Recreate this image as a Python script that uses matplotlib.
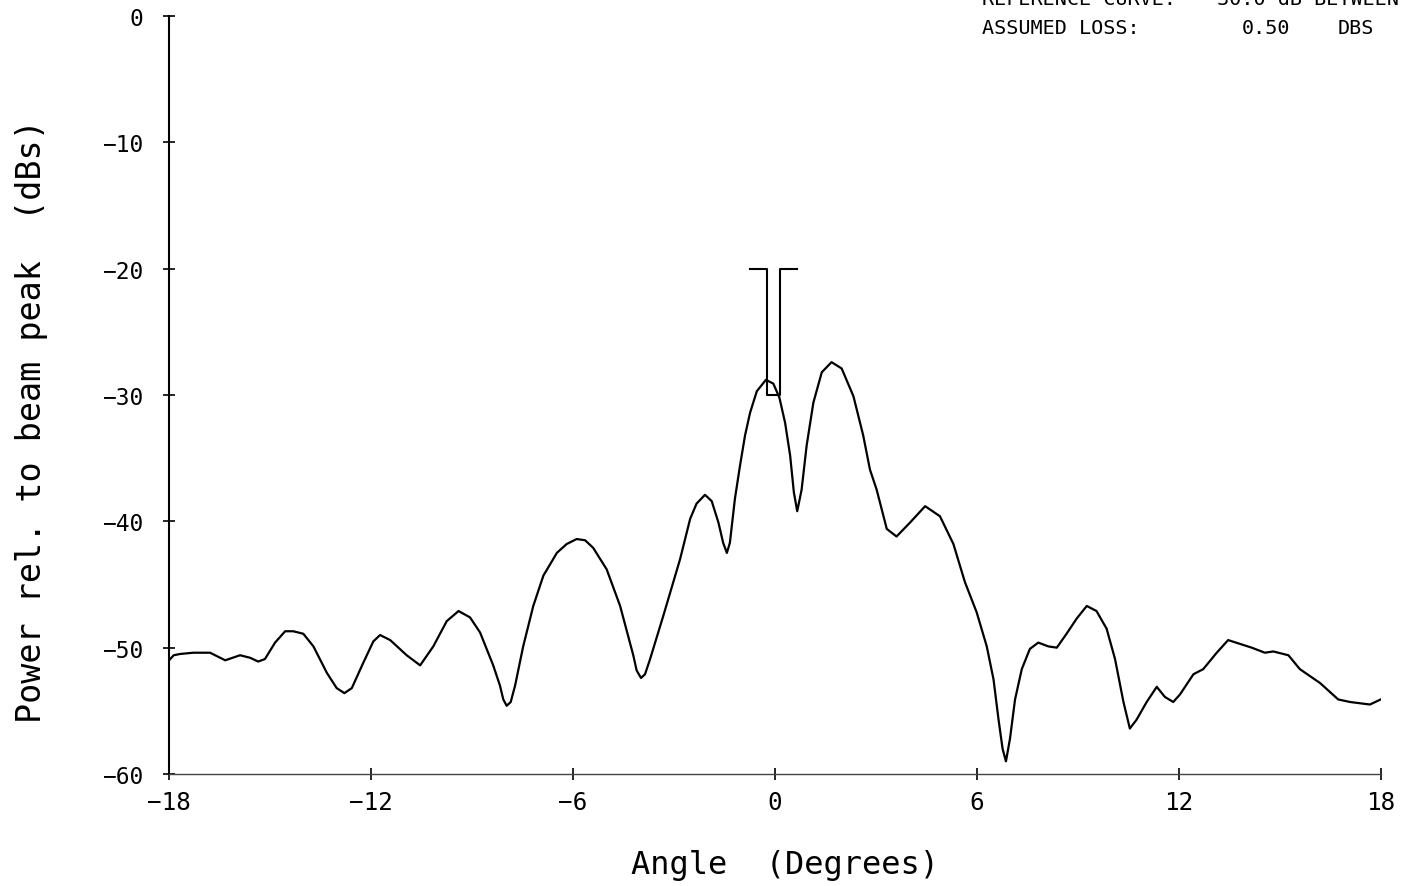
import matplotlib
matplotlib.use("Agg")
import matplotlib.pyplot as plt

angle = [-18.00, -17.86, -17.67, -17.28, -16.78, -16.33, -15.89, -15.59, -15.35, -15.15,
         -14.85, -14.55, -14.31, -14.01, -13.71, -13.31, -13.02, -12.79, -12.57, -12.23,
         -11.93, -11.73, -11.43, -10.94, -10.54, -10.15, -9.75, -9.40, -9.06, -8.76,
         -8.37, -8.17, -8.07, -7.97, -7.85, -7.72, -7.48, -7.18, -6.88, -6.48,
         -6.19, -5.89, -5.64, -5.40, -5.00, -4.60, -4.21, -4.11, -3.98, -3.86,
         -3.71, -3.32, -2.82, -2.52, -2.33, -2.08, -1.88, -1.68, -1.54, -1.43,
         -1.34, -1.19, -1.04, -0.89, -0.74, -0.54, -0.27, -0.05, 0.13, 0.30,
         0.45, 0.56, 0.66, 0.79, 0.94, 1.14, 1.39, 1.68, 1.98, 2.33,
         2.62, 2.82, 3.02, 3.32, 3.61, 4.01, 4.46, 4.90, 5.30, 5.64,
         5.99, 6.29, 6.49, 6.64, 6.76, 6.86, 6.98, 7.13, 7.33, 7.57,
         7.82, 8.12, 8.37, 8.66, 8.96, 9.26, 9.55, 9.85, 10.10, 10.35,
         10.54, 10.74, 11.04, 11.34, 11.58, 11.83, 12.03, 12.43, 12.72, 13.12,
         13.46, 13.81, 14.16, 14.55, 14.80, 15.25, 15.59, 16.19, 16.73, 17.08,
         17.67, 17.99]
power = [-51.0, -50.6, -50.5, -50.4, -50.4, -51.0, -50.6, -50.8, -51.1, -50.9,
         -49.6, -48.7, -48.7, -48.9, -49.9, -52.0, -53.2, -53.6, -53.2, -51.2,
         -49.5, -49.0, -49.4, -50.6, -51.4, -49.9, -47.9, -47.1, -47.6, -48.8,
         -51.4, -53.0, -54.1, -54.6, -54.3, -53.0, -49.9, -46.7, -44.3, -42.5,
         -41.8, -41.4, -41.5, -42.1, -43.8, -46.7, -50.6, -51.8, -52.4, -52.1,
         -50.9, -47.5, -43.0, -39.8, -38.6, -37.9, -38.4, -40.1, -41.7, -42.5,
         -41.7, -38.2, -35.6, -33.2, -31.4, -29.7, -28.8, -29.1, -30.2, -32.2,
         -34.8, -37.7, -39.2, -37.5, -34.0, -30.6, -28.2, -27.4, -27.9, -30.1,
         -33.2, -35.9, -37.5, -40.6, -41.2, -40.1, -38.8, -39.6, -41.8, -44.8,
         -47.2, -49.9, -52.5, -55.7, -58.0, -59.0, -57.2, -54.1, -51.7, -50.1,
         -49.6, -49.9, -50.0, -48.9, -47.7, -46.7, -47.1, -48.5, -50.9, -54.3,
         -56.4, -55.7, -54.3, -53.1, -53.9, -54.3, -53.7, -52.1, -51.7, -50.4,
         -49.4, -49.7, -50.0, -50.4, -50.3, -50.6, -51.7, -52.8, -54.1, -54.3,
         -54.5, -54.1]

mask_x = [-0.75, -0.25, -0.25, 0.15, 0.15, 0.65]
mask_y = [-20, -20, -30, -30, -20, -20]

x_ticks = [-18, -12, -6, 0, 6, 12, 18]
y_ticks = [0, -10, -20, -30, -40, -50, -60]

mono = "DejaVu Sans Mono"

fig = plt.figure(figsize=(14.02, 8.87), dpi=100)
ax = fig.add_axes([169/1402, 1-775/887, (1381-169)/1402, (775-17)/887])

ax.plot(angle, power, color="black", lw=1.6, solid_joinstyle="round")
ax.plot(mask_x, mask_y, color="black", lw=1.5)

ax.set_xlim(-18, 18)
ax.set_ylim(-60, 0)
ax.set_xticks(x_ticks)
ax.set_yticks(y_ticks)
ax.set_xticklabels([str(t).replace("-", "\u2212") for t in x_ticks], fontfamily=mono, fontsize=17.5)
ax.set_yticklabels([str(t).replace("-", "\u2212") for t in y_ticks], fontfamily=mono, fontsize=16.5)
ax.tick_params(direction="inout", length=9, width=1.2)
ax.tick_params(axis="x", pad=7)
ax.tick_params(axis="y", pad=14)

for s in ["top", "right"]:
    ax.spines[s].set_visible(False)
ax.spines["left"].set_linewidth(1.5)
ax.spines["bottom"].set_linewidth(1.0)
ax.spines["bottom"].set_color("#444444")

ax.set_xlabel("Angle  (Degrees)", fontfamily=mono, fontsize=23)
ax.xaxis.label.set_va("center")
ax.xaxis.set_label_coords((785-169)/1212, -(866-775)/758)
ax.set_ylabel("Power rel. to beam peak  (dBs)", fontfamily=mono, fontsize=24)
ax.yaxis.label.set_va("center")
ax.yaxis.set_label_coords((32-169)/1212, 1-(421-17)/758)

fig.text(982/1402, 1-5/887, "REFERENCE CURVE:", fontfamily=mono, fontsize=14.5, va="baseline", ha="left")
fig.text(1205/1402, 1-5/887, "\u221230.0 dB BETWEEN", fontfamily=mono, fontsize=14.5, va="baseline", ha="left")
fig.text(982/1402, 1-34/887, "ASSUMED LOSS:", fontfamily=mono, fontsize=14.5, va="baseline", ha="left")
fig.text(1242/1402, 1-34/887, "0.50", fontfamily=mono, fontsize=14.5, va="baseline", ha="left")
fig.text(1338/1402, 1-34/887, "DBS", fontfamily=mono, fontsize=14.5, va="baseline", ha="left")

fig.savefig("out.png", dpi=100)
